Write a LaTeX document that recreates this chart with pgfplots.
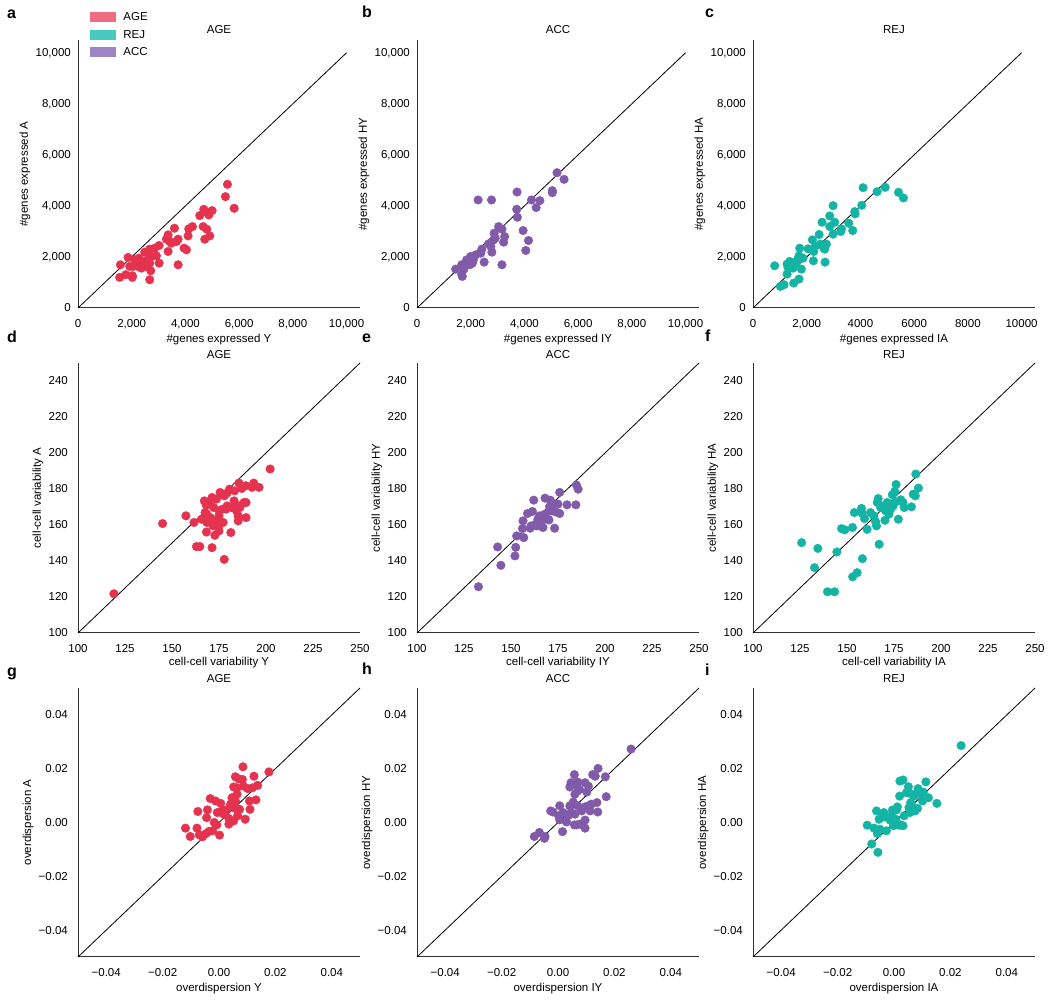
\documentclass[border=0pt]{standalone}
\usepackage{fontspec}
\setmainfont{Liberation Sans}
\usepackage{pgfplots}
\pgfplotsset{compat=1.18}

\definecolor{cage}{HTML}{E5334F}
\definecolor{cacc}{HTML}{825AAA}
\definecolor{crej}{HTML}{14B4A5}
\definecolor{lage}{HTML}{F06C80}
\definecolor{lrej}{HTML}{46C9BE}
\definecolor{lacc}{HTML}{9B85C4}

\newcommand\tf{\fontsize{11.5}{13}\selectfont}

\pgfplotsset{
 panel/.style={scale only axis, width=282pt, axis lines*=left, scaled ticks=false,
   axis line style={line width=1pt, black!80},
   major tick length=0pt, tick style={draw=none},
   every tick label/.append style={font=\tf, inner sep=0pt},
   xticklabel style={anchor=base, yshift=-20pt},
   yticklabel style={anchor=east, text height=8pt, text depth=0pt},
   label style={font=\tf},
   title style={font=\tf, anchor=base, at={(axis description cs:0.5,1)}},
   clip=false,
   xlabel style={at={(axis description cs:0.5,0)}, anchor=base},
   ylabel style={anchor=center},
 },
 dots/.style={only marks, mark=*, mark size=4.3pt, mark options={draw=#1, fill=#1}, forget plot},
 diag/.style={black, line width=0.8pt, forget plot},
 rowa/.style={panel, height=268pt, xmin=0, xmax=10500, ymin=0, ymax=10500,
   xtick={0,2000,4000,6000,8000,10000}, ytick={0,2000,4000,6000,8000,10000},
   xticklabels={0,{2,000},{4,000},{6,000},{8,000},{10,000}},
   yticklabels={0,{2,000},{4,000},{6,000},{8,000},{10,000}},
   yticklabel style={xshift=-7pt},
   title style={yshift=0pt}, xlabel style={yshift=-35pt},
   ylabel style={at={(axis description cs:-0.188,0.5)}}},
 rowb/.style={panel, height=270pt, xmin=100, xmax=250, ymin=100, ymax=250,
   xtick={100,125,150,175,200,225,250}, ytick={100,120,140,160,180,200,220,240},
   xticklabels={100,125,150,175,200,225,250},
   yticklabels={100,120,140,160,180,200,220,240},
   yticklabel style={xshift=-10pt},
   title style={yshift=-2pt}, xlabel style={yshift=-33pt},
   ylabel style={at={(axis description cs:-0.142,0.5)}}},
 rowc/.style={panel, height=269pt, xmin=-0.05, xmax=0.05, ymin=-0.05, ymax=0.05,
   xtick={-0.04,-0.02,0,0.02,0.04}, ytick={-0.04,-0.02,0,0.02,0.04},
   xticklabels={−0.04,−0.02,0.00,0.02,0.04},
   yticklabels={−0.04,−0.02,0.00,0.02,0.04},
   yticklabel style={xshift=-10pt},
   title style={yshift=-1pt}, xlabel style={yshift=-35pt},
   ylabel style={at={(axis description cs:-0.177,0.5)}}},
}

\begin{document}
\begin{tikzpicture}
\path[use as bounding box] (0pt,0pt) rectangle (1050pt,1000pt);

% ---------------- Row 1 ----------------
\begin{axis}[rowa, at={(78pt,692pt)}, anchor=south west,
  title={AGE}, xlabel={\#genes expressed Y}, ylabel={\#genes expressed A},
  legend style={at={(axis description cs:0.042,1.11)}, anchor=north west,
    draw=none, fill=none, font=\tf, inner sep=0pt, row sep=5.5pt, column sep=6pt,
    nodes={inner sep=2pt, text height=8pt, text depth=0pt}},
  legend cell align=left]
\addlegendimage{legend image code/.code={\fill[lage] (0pt,-4.5pt) rectangle (25pt,4.5pt);}}
\addlegendentry{AGE}
\addlegendimage{legend image code/.code={\fill[lrej] (0pt,-4.5pt) rectangle (25pt,4.5pt);}}
\addlegendentry{REJ}
\addlegendimage{legend image code/.code={\fill[lacc] (0pt,-4.5pt) rectangle (25pt,4.5pt);}}
\addlegendentry{ACC}
\addplot[diag] coordinates {(0,0) (10000,10000)};
\addplot[dots=cage] coordinates {
(5565,4844) (5490,4362) (5814,3906) (4683,3867) (4994,3815) (4870,3646) (4534,3620) (4807,3750)
(3590,3125) (4261,3190) (4124,3099) (4658,3190) (4795,3086) (4720,2695) (4907,2825) (4099,2825)
(3354,2865) (3478,2539) (3727,2695) (3416,2604) (3665,2604) (3292,2695) (3950,2344) (4037,2279)
(3354,2214) (3727,1693) (3019,2448) (2857,2344) (2919,2044) (3019,1758) (2671,2305) (2484,2188)
(2733,2018) (2671,1758) (2708,1458) (2671,1107) (1863,1979) (1578,1693) (1553,1198) (1776,1302)
(2025,1263) (2025,1198) (2050,1628) (2174,1758) (2298,1667) (2422,1823) (2112,1888) (2360,1563)
(2236,1628) (2547,1823) (1925,1628) (2509,1693) (2609,1888) (2273,1953) (2484,1628)};
\end{axis}

\begin{axis}[rowa, at={(417pt,692pt)}, anchor=south west,
  title={ACC}, xlabel={\#genes expressed IY}, ylabel={\#genes expressed HY}]
\addplot[diag] coordinates {(0,0) (10000,10000)};
\addplot[dots=cacc] coordinates {
(5213,5299) (5475,5039) (5038,4596) (5038,4518) (3725,4544) (2275,4232) (2775,4232) (4263,4232)
(4575,4206) (4438,3932) (3713,3867) (3738,3555) (3038,3190) (3163,3086) (3950,3034) (3263,2799)
(3225,2578) (4150,2643) (4050,2253) (2913,2734) (2850,2669) (2663,2513) (2750,2409) (2788,2188)
(2413,2305) (2375,2148) (2500,1797) (3163,1693) (2000,2018) (1938,1823) (2063,1758) (1850,1888)
(2100,1888) (1663,1693) (1750,1523) (1438,1523) (1663,1328) (1688,1237) (2188,2083) (2875,2930)
(2050,1950) (1980,1700)};
\end{axis}

\begin{axis}[rowa, at={(753pt,692pt)}, anchor=south west,
  xticklabels={0,{2,000},4000,6000,8000,10000},
  title={REJ}, xlabel={\#genes expressed IA}, ylabel={\#genes expressed HA}]
\addplot[diag] coordinates {(0,0) (10000,10000)};
\addplot[dots=crej] coordinates {
(4099,4714) (4621,4557) (4919,4727) (5416,4531) (5602,4310) (2981,4010) (4050,4023) (3789,3776)
(3801,3685) (2857,3607) (2571,3359) (3043,3359) (3565,3320) (3292,3099) (3267,2995) (3714,3034)
(2857,3190) (2981,2891) (2460,2878) (2211,2669) (2323,2435) (2050,2318) (1739,2344) (2261,2214)
(2509,2500) (2733,2500) (2634,2344) (2671,2305) (2248,1849) (2683,1797) (1714,2044) (1776,1979)
(1652,1888) (1366,1823) (1267,1719) (1304,1589) (1491,1563) (1801,1523) (1267,1328) (807,1654)
(1516,977) (1714,1133) (1155,911) (1019,846) (1615,1758) (1863,1953)};
\end{axis}

% ---------------- Row 2 ----------------
\begin{axis}[rowb, at={(78pt,367pt)}, anchor=south west,
  title={AGE}, xlabel={cell-cell variability Y}, ylabel={cell-cell variability A}]
\addplot[diag] coordinates {(100,100) (250,250)};
\addplot[dots=cage] coordinates {
(119.1,121.8) (145.0,160.8) (157.4,165.1) (161.7,161.4) (202.2,191.1) (177.8,140.9) (163.0,148.0)
(164.8,148.0) (171.3,147.4) (168.3,156.1) (172.8,154.3) (175.0,156.7) (181.3,155.8) (167.2,173.4)
(171.3,175.3) (175.6,178.1) (180.6,179.9) (185.6,183.3) (193.5,183.3) (196.3,180.9) (192.6,180.9)
(189.3,181.8) (187.1,180.3) (183.3,179.0) (179.3,177.7) (177.8,176.2) (173.7,174.4) (168.2,171.0)
(169.4,172.5) (168.5,166.0) (167.6,166.9) (170.4,164.1) (173.1,162.3) (175.0,165.1) (177.2,161.4)
(175.0,159.5) (176.9,168.8) (179.3,170.6) (182.4,169.7) (183.0,173.4) (185.6,170.6) (188.3,172.5)
(189.4,172.5) (185.2,165.1) (185.2,162.3) (189.4,164.1) (165.7,163.2) (168.5,161.4) (171.7,159.5)
(175.0,167.9) (178.7,168.8) (184.3,167.9) (186.1,169.7) (172.2,169.7) (181.6,169.7)};
\end{axis}

\begin{axis}[rowb, at={(417pt,367pt)}, anchor=south west,
  title={ACC}, xlabel={cell-cell variability IY}, ylabel={cell-cell variability HY}]
\addplot[diag] coordinates {(100,100) (250,250)};
\addplot[dots=cacc] coordinates {
(132.7,125.7) (142.9,147.8) (144.6,137.6) (152.1,142.8) (152.5,147.6) (153.0,153.9) (156.8,153.0)
(156.1,158.0) (156.4,162.3) (160.2,158.2) (158.8,166.4) (161.4,167.5) (160.7,159.5) (163.4,159.5)
(164.3,161.9) (167.0,163.2) (165.2,165.1) (167.9,166.0) (166.1,161.4) (169.6,163.2) (170.2,162.8)
(162.1,173.8) (168.1,174.9) (170.9,173.8) (173.2,171.2) (175.9,178.1) (175.0,171.6) (175.9,166.4)
(173.6,167.3) (179.8,171.2) (184.5,171.2) (184.8,182.2) (185.7,179.9) (173.2,158.2) (170.5,170.1)
(164.3,163.2) (165.7,159.5) (171.4,167.9) (167.0,158.6)};
\end{axis}

\begin{axis}[rowb, at={(753pt,367pt)}, anchor=south west,
  title={REJ}, xlabel={cell-cell variability IA}, ylabel={cell-cell variability HA}]
\addplot[diag] coordinates {(100,100) (250,250)};
\addplot[dots=crej] coordinates {
(125.9,150.2) (132.7,136.3) (134.5,147.0) (139.6,122.9) (143.4,122.9) (144.6,145.0) (153.0,131.2)
(155.4,133.5) (158.2,141.3) (167.1,149.3) (147.1,158.0) (148.8,157.3) (152.9,158.6) (160.7,157.6)
(153.9,166.9) (157.7,169.2) (158.0,166.6) (159.3,163.6) (162.5,166.9) (164.3,165.1) (165.2,161.9)
(165.7,159.5) (166.1,172.5) (166.6,174.7) (167.9,169.7) (170.2,162.6) (171.4,172.5) (172.3,166.0)
(173.2,168.8) (174.5,170.6) (174.1,176.8) (175.4,178.6) (176.1,182.5) (175.9,172.9) (177.3,163.2)
(178.6,174.0) (179.8,172.5) (180.4,169.7) (184.3,170.1) (185.2,177.1) (186.3,176.2) (188.0,180.5)
(186.6,188.3) (170.5,167.9) (169.3,170.6)};
\end{axis}

% ---------------- Row 3 ----------------
\begin{axis}[rowc, at={(78pt,43pt)}, anchor=south west,
  title={AGE}, xlabel={overdispersion Y}, ylabel={overdispersion A}]
\addplot[diag] coordinates {(-0.05,-0.05) (0.05,0.05)};
\addplot[dots=cage] coordinates {
(-0.0119,-0.0021) (-0.0102,-0.0052) (-0.0075,0.0041) (-0.0078,-0.0021) (-0.0070,-0.0046)
(-0.0058,-0.0053) (-0.0046,-0.0041) (-0.0035,-0.0033) (-0.0023,-0.0031) (-0.0044,0.0018)
(-0.0041,0.0047) (-0.0031,0.0089) (-0.0012,0.0080) (0.0006,0.0071) (-0.0006,0.0037)
(0.0003,0.0039) (0.0012,0.0043) (-0.0017,0.0000) (-0.0008,-0.0009) (0.0002,-0.0047)
(0.0035,0.0015) (0.0041,0.0004) (0.0052,0.0006) (0.0035,-0.0006) (0.0041,0.0068)
(0.0046,0.0092) (0.0052,0.0062) (0.0058,0.0080) (0.0064,0.0105) (0.0064,0.0129)
(0.0058,0.0170) (0.0070,0.0162) (0.0083,0.0160) (0.0085,0.0207) (0.0052,0.0132)
(0.0058,0.0052) (0.0073,0.0049) (0.0093,0.0012) (0.0102,0.0126) (0.0108,0.0080)
(0.0110,0.0049) (0.0119,0.0129) (0.0124,0.0172) (0.0131,0.0084) (0.0137,0.0138)
(0.0177,0.0188) (0.0087,0.0135) (0.0026,0.0047) (0.0017,0.0031) (0.0066,0.0025)};
\end{axis}

\begin{axis}[rowc, at={(417pt,43pt)}, anchor=south west,
  title={ACC}, xlabel={overdispersion IY}, ylabel={overdispersion HY}]
\addplot[diag] coordinates {(-0.05,-0.05) (0.05,0.05)};
\addplot[dots=cacc] coordinates {
(0.0259,0.0273) (0.0142,0.0201) (0.0123,0.0178) (0.0132,0.0172) (0.0168,0.0170) (0.0171,0.0096)
(0.0138,0.0074) (0.0141,0.0039) (0.0118,0.0068) (0.0108,0.0062) (0.0114,0.0043) (0.0096,0.0058)
(0.0096,0.0148) (0.0108,0.0135) (0.0102,0.0113) (0.0096,0.0009) (0.0096,-0.0021) (0.0078,-0.0006)
(0.0066,-0.0009) (0.0058,-0.0009) (0.0060,0.0031) (0.0070,0.0062) (0.0084,0.0043) (0.0058,0.0178)
(0.0046,0.0148) (0.0042,0.0132) (0.0054,0.0142) (0.0070,0.0150) (0.0060,0.0105) (0.0070,0.0117)
(0.0076,0.0123) (0.0054,0.0076) (0.0042,0.0062) (0.0006,0.0062) (0.0002,0.0025) (0.0018,0.0037)
(0.0006,0.0010) (0.0030,0.0002) (0.0016,-0.0034) (-0.0026,0.0043) (-0.0018,0.0039)
(-0.0046,-0.0052) (-0.0066,-0.0037) (-0.0084,-0.0052) (-0.0048,-0.0059) (0.0046,0.0037) (0.0036,0.0025)};
\end{axis}

\begin{axis}[rowc, at={(753pt,43pt)}, anchor=south west,
  title={REJ}, xlabel={overdispersion IA}, ylabel={overdispersion HA}]
\addplot[diag] coordinates {(-0.05,-0.05) (0.05,0.05)};
\addplot[dots=crej] coordinates {
(0.0238,0.0286) (0.0113,0.0151) (0.0122,0.0092) (0.0152,0.0071) (0.0085,0.0126) (0.0051,0.0133)
(0.0032,0.0158) (0.0021,0.0154) (0.0020,0.0098) (0.0044,0.0111) (0.0059,0.0107) (0.0071,0.0098)
(0.0083,0.0111) (0.0095,0.0105) (0.0104,0.0113) (0.0101,0.0080) (0.0059,0.0074) (0.0053,0.0055)
(0.0071,0.0053) (0.0083,0.0052) (0.0057,0.0037) (0.0075,0.0043) (0.0036,0.0025) (0.0024,-0.0009)
(0.0032,-0.0012) (0.0012,0.0058) (0.0009,0.0047) (-0.0006,0.0046) (-0.0008,0.0025) (0.0006,0.0012)
(-0.0014,0.0009) (-0.0036,0.0037) (-0.0041,0.0025) (-0.0053,0.0012) (-0.0062,0.0043) (-0.0033,0.0021)
(-0.0071,-0.0021) (-0.0059,-0.0041) (-0.0050,-0.0025) (-0.0027,-0.0031) (-0.0095,-0.0010)
(-0.0079,-0.0080) (-0.0057,-0.0111) (-0.0002,-0.0012) (0.0018,-0.0010)};
\end{axis}

% ---------------- panel letters ----------------
\begin{scope}[every node/.style={font=\fontsize{16}{18}\selectfont\bfseries, anchor=base west, inner sep=0pt}]
\node at (7pt,981pt) {a};
\node at (362pt,982pt) {b};
\node at (705pt,982pt) {c};
\node at (7pt,657pt) {d};
\node at (362pt,657pt) {e};
\node at (705pt,658pt) {f};
\node at (7pt,323pt) {g};
\node at (362pt,325pt) {h};
\node at (705pt,324pt) {i};
\end{scope}
\end{tikzpicture}
\end{document}
